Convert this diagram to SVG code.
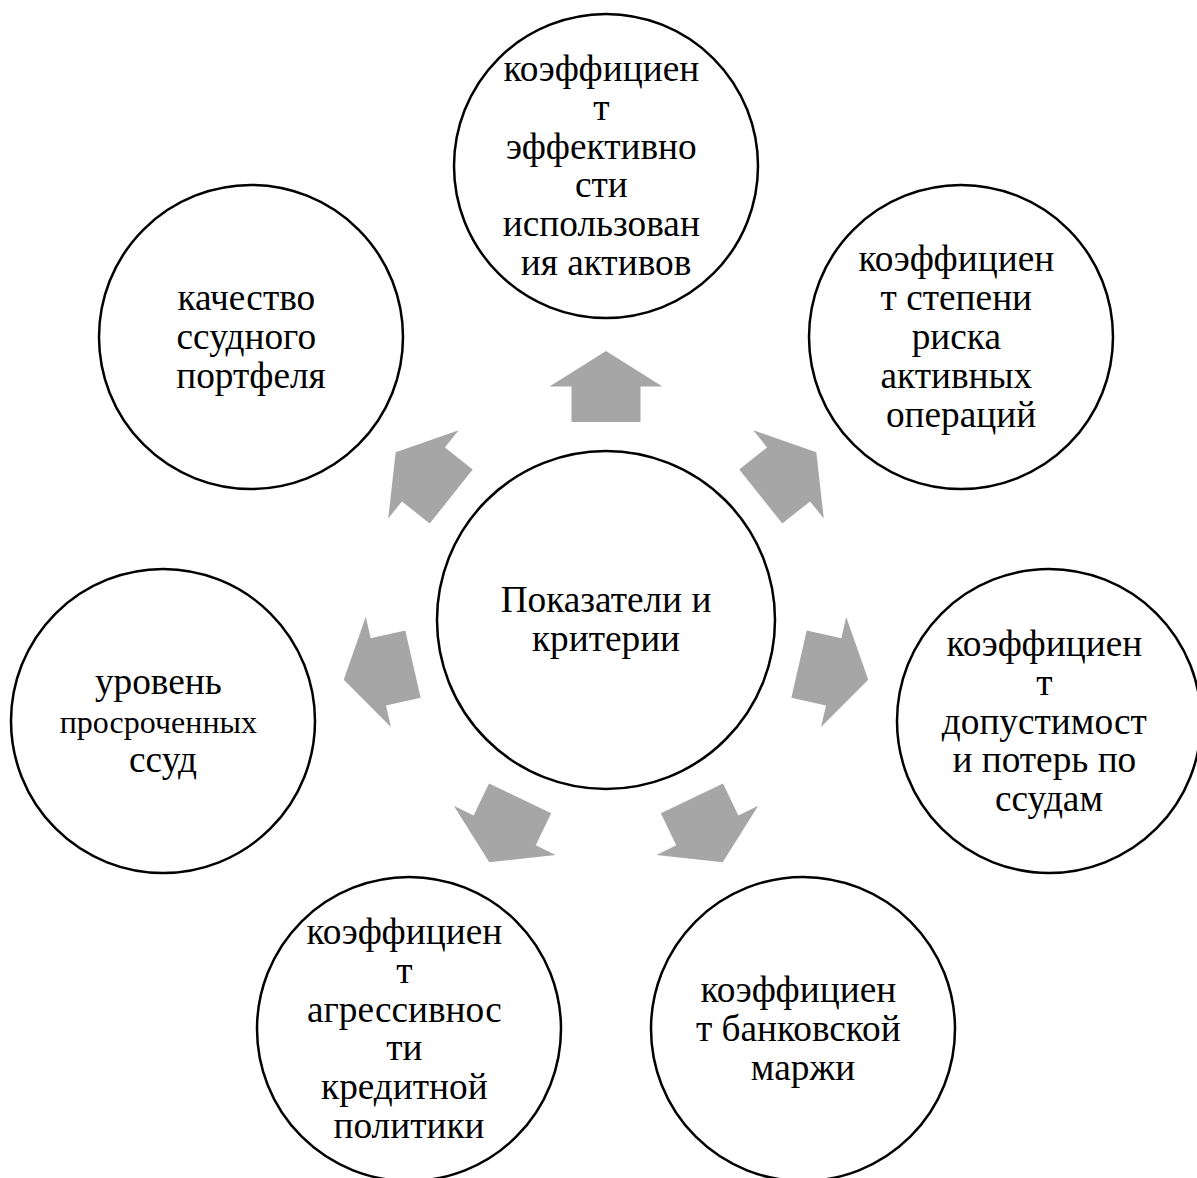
<svg xmlns="http://www.w3.org/2000/svg" xmlns:xlink="http://www.w3.org/1999/xlink" width="1197" height="1178" viewBox="0 0 1197 1178">
  <style>
    .node { fill: #ffffff; stroke: #000000; stroke-width: 2.5; }
    .lbl { font-family: "Liberation Serif", "Times New Roman", serif; font-size: 37.3px; fill: #000000; text-anchor: middle; }
    .sm { font-size: 32px; }
    .arrow { fill: #a6a6a6; }
  </style>
  <defs>
    <!-- block arrow pointing up, measured from the hub centre -->
    <path id="blockArrow" d="M0,-269 L56.5,-233.5 L34.5,-233.5 L34.5,-198 L-34.5,-198 L-34.5,-233.5 L-56.5,-233.5 Z"/>
  </defs>
  <rect width="1197" height="1178" fill="#ffffff"/>

  <!-- connectors: seven arrows radiating from the hub -->
  <g id="connectors" class="arrow">
    <use xlink:href="#blockArrow" transform="translate(606,620) rotate(0)"/>
    <use xlink:href="#blockArrow" transform="translate(606,620) rotate(51.4286)"/>
    <use xlink:href="#blockArrow" transform="translate(606,620) rotate(102.8571)"/>
    <use xlink:href="#blockArrow" transform="translate(606,620) rotate(154.2857)"/>
    <use xlink:href="#blockArrow" transform="translate(606,620) rotate(205.7143)"/>
    <use xlink:href="#blockArrow" transform="translate(606,620) rotate(257.1429)"/>
    <use xlink:href="#blockArrow" transform="translate(606,620) rotate(308.5714)"/>
  </g>

  <!-- hub -->
  <g id="node-center">
    <circle class="node" cx="606" cy="620" r="169"/>
    <text class="lbl" x="606"><tspan x="606" y="612">Показатели и</tspan><tspan x="606" y="651">критерии</tspan></text>
  </g>

  <g id="node-top">
    <circle class="node" cx="606" cy="166" r="152"/>
    <text class="lbl">
      <tspan x="606" y="81">коэффициен</tspan>
      <tspan x="606" y="119.8">т</tspan>
      <tspan x="606" y="158.6">эффективно</tspan>
      <tspan x="606" y="197.4">сти</tspan>
      <tspan x="606" y="236.2">использован</tspan>
      <tspan x="606" y="275">ия активов</tspan>
    </text>
  </g>

  <g id="node-top-right">
    <circle class="node" cx="961" cy="337" r="152"/>
    <text class="lbl">
      <tspan x="961" y="271.4">коэффициен</tspan>
      <tspan x="961" y="310.2">т степени</tspan>
      <tspan x="961" y="349">риска</tspan>
      <tspan x="961" y="387.8">активных</tspan>
      <tspan x="961" y="426.6">операций</tspan>
    </text>
  </g>

  <g id="node-right">
    <circle class="node" cx="1049" cy="721" r="152"/>
    <text class="lbl">
      <tspan x="1049" y="656">коэффициен</tspan>
      <tspan x="1049" y="694.8">т</tspan>
      <tspan x="1049" y="733.6">допустимост</tspan>
      <tspan x="1049" y="772.4">и потерь по</tspan>
      <tspan x="1049" y="811.2">ссудам</tspan>
    </text>
  </g>

  <g id="node-bottom-right">
    <circle class="node" cx="803" cy="1029" r="152"/>
    <text class="lbl">
      <tspan x="803" y="1002">коэффициен</tspan>
      <tspan x="803" y="1040.8">т банковской</tspan>
      <tspan x="803" y="1079.6">маржи</tspan>
    </text>
  </g>

  <g id="node-bottom-left">
    <circle class="node" cx="409" cy="1029" r="152"/>
    <text class="lbl">
      <tspan x="409" y="944">коэффициен</tspan>
      <tspan x="409" y="982.8">т</tspan>
      <tspan x="409" y="1021.6">агрессивнос</tspan>
      <tspan x="409" y="1060.4">ти</tspan>
      <tspan x="409" y="1099.2">кредитной</tspan>
      <tspan x="409" y="1138">политики</tspan>
    </text>
  </g>

  <g id="node-left">
    <circle class="node" cx="163" cy="721" r="152"/>
    <text class="lbl">
      <tspan x="163" y="694">уровень</tspan>
      <tspan class="sm" x="163" y="732.8">просроченных</tspan>
      <tspan x="163" y="771.6">ссуд</tspan>
    </text>
  </g>

  <g id="node-top-left">
    <circle class="node" cx="251" cy="337" r="152"/>
    <text class="lbl">
      <tspan x="251" y="310.2">качество</tspan>
      <tspan x="251" y="349">ссудного</tspan>
      <tspan x="251" y="387.8">портфеля</tspan>
    </text>
  </g>
</svg>
